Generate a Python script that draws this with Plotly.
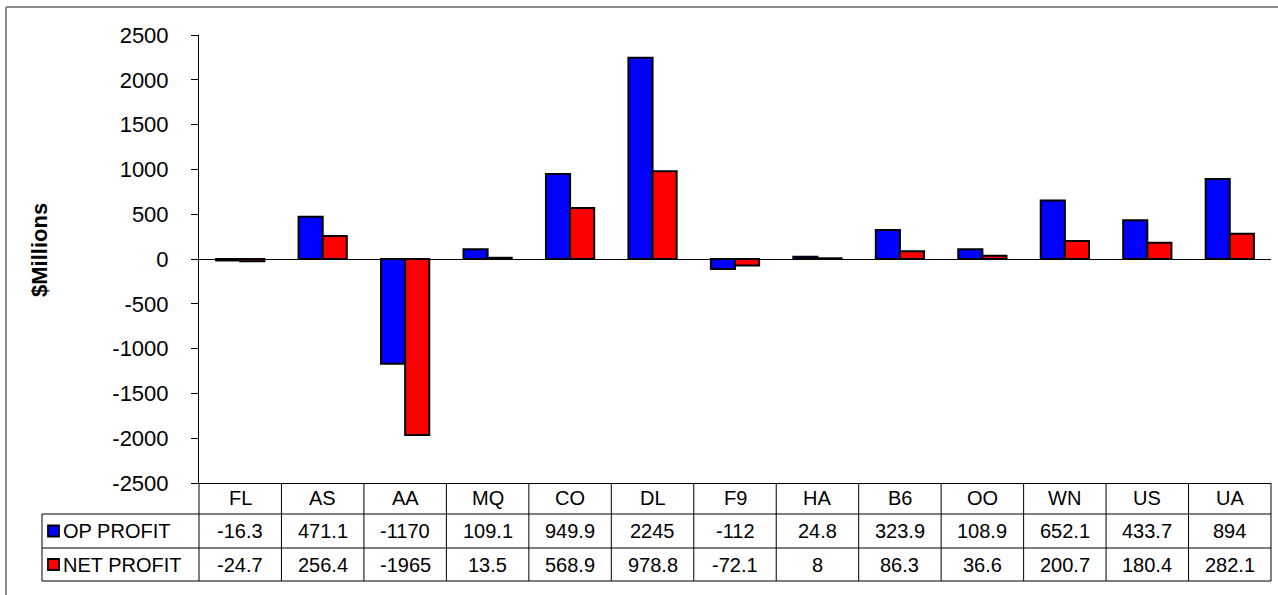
import plotly.graph_objects as go

# ---------------- data ----------------
carriers = ["FL", "AS", "AA", "MQ", "CO", "DL", "F9", "HA", "B6", "OO", "WN", "US", "UA"]
op_profit = [-16.3, 471.1, -1170, 109.1, 949.9, 2245, -112, 24.8, 323.9, 108.9, 652.1, 433.7, 894]
net_profit = [-24.7, 256.4, -1965, 13.5, 568.9, 978.8, -72.1, 8, 86.3, 36.6, 200.7, 180.4, 282.1]
series_names = ["OP PROFIT", "NET PROFIT"]
series_colors = ["#0000FF", "#FF0000"]
y_ticks = [-2500, -2000, -1500, -1000, -500, 0, 500, 1000, 1500, 2000, 2500]
y_tick_labels = ["-2500", "-2000", "-1500", "-1000", "-500", "0", "500", "1000", "1500", "2000", "2500"]
y_title = "$Millions"

# ---------------- layout geometry (pixels) ----------------
W, H = 1278, 595
L, R, T, B = 199, 1271, 35, 483
FONT = "Liberation Sans, Arial, sans-serif"


def px(x):
    return (x - L) / (R - L)


def py(y):
    return (B - y) / (B - T)


series_values = [op_profit, net_profit]

fig = go.Figure()
for name, vals, col in zip(series_names, series_values, series_colors):
    fig.add_trace(go.Bar(
        x=carriers, y=vals, name=name,
        marker=dict(color=col, line=dict(color="black", width=2)),
        showlegend=False,
    ))

shapes = []
annotations = []

# table rows (pixel y bounds)
row_top = [483, 514, 548]
row_bot = [514, 548, 581]
table_left = 42
n = len(carriers)

# horizontal table lines
for yv in [514, 548, 581]:
    shapes.append(dict(type="line", xref="paper", yref="paper",
                       x0=px(table_left), x1=1, y0=py(yv), y1=py(yv),
                       line=dict(color="black", width=1)))
# vertical lines
shapes.append(dict(type="line", xref="paper", yref="paper",
                   x0=px(table_left), x1=px(table_left), y0=py(514), y1=py(581),
                   line=dict(color="black", width=1)))
for k in range(n + 1):
    xk = k / n
    shapes.append(dict(type="line", xref="paper", yref="paper",
                       x0=xk, x1=xk, y0=py(483), y1=py(581),
                       line=dict(color="black", width=1)))

# header row: category names
for c in carriers:
    annotations.append(dict(x=c, xref="x", y=py((row_top[0] + row_bot[0]) / 2), yref="paper",
                            text=c, showarrow=False, font=dict(size=20, color="black", family=FONT),
                            xanchor="center", yanchor="middle"))
# value rows
for r, (name, vals, col) in enumerate(zip(series_names, series_values, series_colors), start=1):
    yc = (row_top[r] + row_bot[r]) / 2
    for c, v in zip(carriers, vals):
        annotations.append(dict(x=c, xref="x", y=py(yc), yref="paper",
                                text=f"{v:g}", showarrow=False,
                                font=dict(size=20, color="black", family=FONT),
                                xanchor="center", yanchor="middle"))
    # legend key square
    shapes.append(dict(type="rect", xref="paper", yref="paper",
                       x0=px(48), x1=px(59), y0=py(yc - 5.5), y1=py(yc + 5.5),
                       fillcolor=col, line=dict(color="black", width=1.8)))
    annotations.append(dict(x=px(61), xref="paper", y=py(yc), yref="paper",
                            text=name, showarrow=False,
                            font=dict(size=20, color="black", family=FONT),
                            xanchor="left", yanchor="middle"))

# y-axis title
annotations.append(dict(x=px(39), xref="paper", y=py(250), yref="paper",
                        text="<b>" + y_title + "</b>", textangle=-90, showarrow=False,
                        font=dict(size=22, color="black", family=FONT),
                        xanchor="center", yanchor="middle"))

# outer chart border (left and top)
shapes.append(dict(type="line", xref="paper", yref="paper",
                   x0=px(6), x1=px(6), y0=py(7), y1=py(W),
                   line=dict(color="#8a8a8a", width=2)))
shapes.append(dict(type="line", xref="paper", yref="paper",
                   x0=px(6), x1=px(W + 5), y0=py(7), y1=py(7),
                   line=dict(color="#8a8a8a", width=2)))

fig.update_layout(
    width=W, height=H,
    margin=dict(l=L, r=W - R, t=T, b=H - B, pad=0),
    paper_bgcolor="white", plot_bgcolor="white",
    barmode="group", bargap=0.415, bargroupgap=0,
    font=dict(family=FONT, color="black"),
    shapes=shapes, annotations=annotations,
)
fig.update_xaxes(type="category", range=[-0.5, n - 0.5], showticklabels=False,
                 ticks="", showline=True, linecolor="black", linewidth=1,
                 showgrid=False, zeroline=False, fixedrange=True)
fig.update_yaxes(range=[-2500, 2500], tickvals=y_ticks, ticktext=y_tick_labels,
                 ticks="outside", ticklen=7,
                 tickcolor="black", tickwidth=1, showline=True, linecolor="black",
                 linewidth=1, showgrid=False, zeroline=True, zerolinecolor="black",
                 zerolinewidth=1, tickfont=dict(size=22, family=FONT, color="black"),
                 ticklabelstandoff=18, fixedrange=True)

fig.write_html("out.html", config={"displayModeBar": False},
               post_script="document.body.style.margin='0';document.body.style.overflow='hidden';")
